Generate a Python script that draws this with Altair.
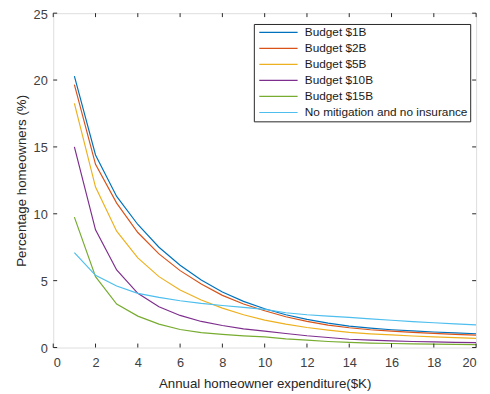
import altair as alt
import pandas as pd

x_vals = list(range(1, 21))
series_names = ["Budget $1B", "Budget $2B", "Budget $5B", "Budget $10B", "Budget $15B",
                "No mitigation and no insurance"]
colors = ["#0072BD", "#D95319", "#EDB120", "#7E2F8E", "#77AC30", "#4DBEEE"]

budget_1b = [20.3, 14.4, 11.3, 9.2, 7.5, 6.15, 5.05, 4.15, 3.45, 2.9,
             2.45, 2.1, 1.82, 1.6, 1.45, 1.33, 1.24, 1.16, 1.09, 1.03]
budget_2b = [19.65, 13.7, 10.8, 8.6, 7.0, 5.75, 4.75, 3.9, 3.25, 2.75,
             2.3, 1.95, 1.68, 1.48, 1.33, 1.22, 1.13, 1.06, 0.99, 0.93]
budget_5b = [18.25, 12.0, 8.7, 6.7, 5.3, 4.3, 3.55, 2.95, 2.45, 2.05,
             1.75, 1.5, 1.3, 1.13, 1.02, 0.94, 0.86, 0.8, 0.74, 0.69]
budget_10b = [15.0, 8.8, 5.8, 4.05, 3.05, 2.4, 1.95, 1.65, 1.4, 1.22,
              1.05, 0.88, 0.75, 0.62, 0.55, 0.5, 0.45, 0.42, 0.39, 0.37]
budget_15b = [9.75, 5.3, 3.25, 2.35, 1.75, 1.35, 1.12, 0.98, 0.87, 0.79,
              0.65, 0.55, 0.45, 0.38, 0.33, 0.3, 0.27, 0.25, 0.23, 0.22]
no_mitigation = [7.1, 5.4, 4.6, 4.05, 3.75, 3.5, 3.3, 3.14, 3.0, 2.85,
                 2.6, 2.45, 2.35, 2.25, 2.14, 2.04, 1.94, 1.85, 1.77, 1.69]

x_ticks = list(range(0, 21, 2))
y_ticks = list(range(0, 26, 5))

all_series = [budget_1b, budget_2b, budget_5b, budget_10b, budget_15b, no_mitigation]
rows = []
for name, vals in zip(series_names, all_series):
    for xv, yv in zip(x_vals, vals):
        rows.append({"x": xv, "y": yv, "series": name})
df = pd.DataFrame(rows)

W, H = 430, 340
FONT = "Liberation Sans"
AX = "#262626"
LAB = "#404040"

xscale = alt.Scale(domain=[0, 20], nice=False)
yscale = alt.Scale(domain=[0, 25], nice=False)

lines = alt.Chart(df).mark_line(strokeWidth=1.2, clip=True).encode(
    x=alt.X("x:Q", scale=xscale,
            axis=alt.Axis(values=x_ticks, title="Annual homeowner expenditure($K)",
                          grid=False, ticks=False, domain=False, labelPadding=9,
                          labelFontSize=13, labelColor=LAB, labelFont=FONT,
                          titleFont=FONT, titleFontSize=13.5, titleFontWeight="normal",
                          titleColor=AX, titlePadding=8)),
    y=alt.Y("y:Q", scale=yscale,
            axis=alt.Axis(values=y_ticks, title="Percentage homeowners (%)",
                          grid=False, ticks=False, domain=False, labelPadding=6,
                          labelFontSize=13, labelColor=LAB, labelFont=FONT, labelOffset=1,
                          titleFont=FONT, titleFontSize=13.5, titleFontWeight="normal",
                          titleColor=AX, titlePadding=5)),
    color=alt.Color("series:N", scale=alt.Scale(domain=series_names, range=colors),
                    sort=series_names,
                    legend=alt.Legend(orient="none", legendX=204, legendY=11, title=None,
                                      symbolType="M-4,0L4,0", symbolSize=95,
                                      symbolStrokeWidth=1.2, symbolOffset=16.5,
                                      labelFontSize=12, labelLimit=0,
                                      labelFont=FONT, labelColor="#1a1a1a",
                                      strokeColor=AX, fillColor="white",
                                      padding=2.5, rowPadding=4.3, labelOffset=20.8)),
)

xt = pd.DataFrame({"t": x_ticks})
yt = pd.DataFrame({"t": y_ticks})
tick_style = dict(color=AX, strokeWidth=1)

xb = alt.Chart(xt).mark_rule(**tick_style).encode(
    x=alt.X("t:Q", scale=xscale), y=alt.value(H), y2=alt.value(H - 4))
xtop = alt.Chart(xt).mark_rule(**tick_style).encode(
    x=alt.X("t:Q", scale=xscale), y=alt.value(0), y2=alt.value(4))
yl = alt.Chart(yt).mark_rule(**tick_style).encode(
    y=alt.Y("t:Q", scale=yscale), x=alt.value(0), x2=alt.value(4))
yr = alt.Chart(yt).mark_rule(**tick_style).encode(
    y=alt.Y("t:Q", scale=yscale), x=alt.value(W), x2=alt.value(W - 4))

chart = alt.layer(lines, xb, xtop, yl, yr).properties(
    width=W, height=H,
    padding={"left": 46, "top": 2, "right": 6, "bottom": 44},
    autosize=alt.AutoSizeParams(type="none"),
).configure_view(stroke=AX, strokeWidth=1).configure(background="white")

chart.save("out.html", embed_options={"renderer": "svg", "actions": False})
